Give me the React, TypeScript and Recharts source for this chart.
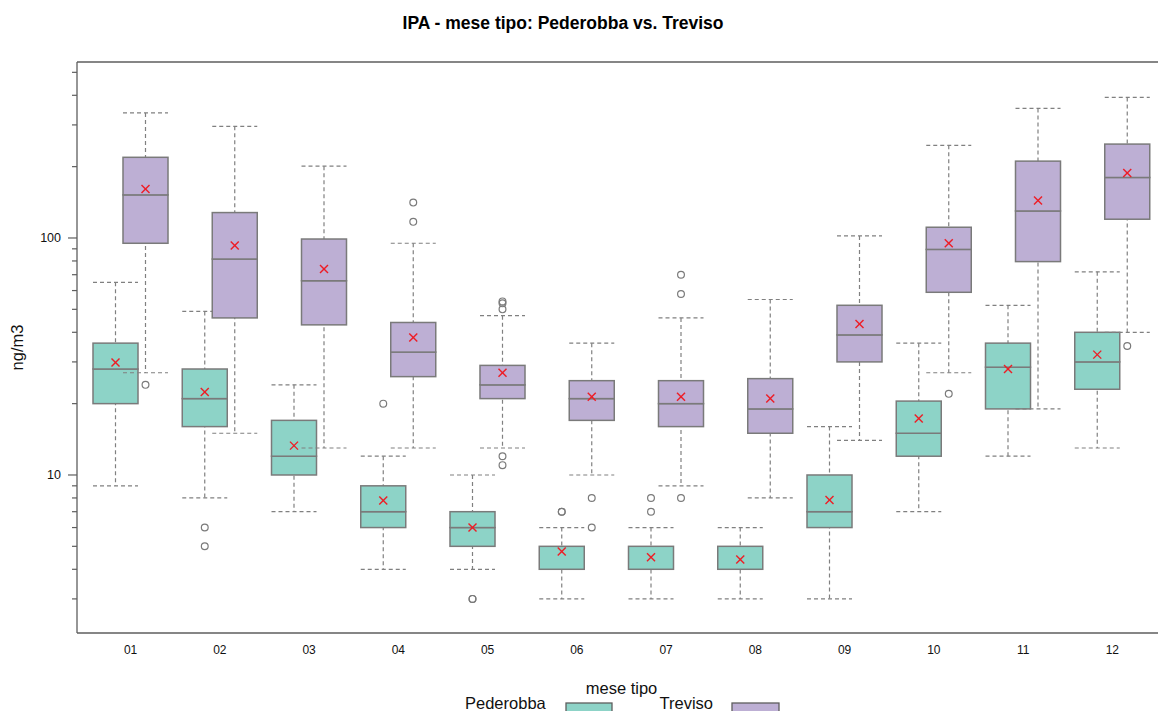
import { ComposedChart, Bar, XAxis, YAxis } from 'recharts';

const MONTHS = ['01', '02', '03', '04', '05', '06', '07', '08', '09', '10', '11', '12'];

// Pederobba
const PED_MIN = [9, 8, 7, 4, 4, 3, 3, 3, 3, 7, 12, 13];
const PED_Q1 = [20, 16, 10, 6, 5, 4, 4, 4, 6, 12, 19, 23];
const PED_MED = [28, 21, 12, 7, 6, 4, 4, 4, 7, 15, 28.5, 30];
const PED_Q3 = [36, 28, 17, 9, 7, 5, 5, 5, 10, 20.5, 36, 40];
const PED_MAX = [65, 49, 24, 12, 10, 6, 6, 6, 16, 36, 52, 72];
const PED_MEAN = [29.8, 22.4, 13.3, 7.8, 6.0, 4.75, 4.5, 4.4, 7.85, 17.3, 28.0, 32.2];
const PED_OUT = [[], [6, 5], [], [20], [3, 3], [7, 7], [8, 7], [], [], [], [], []];

// Treviso
const TRV_MIN = [27, 15, 13, 13, 13, 10, 9, 8, 14, 27, 19, 40];
const TRV_Q1 = [95, 46, 43, 26, 21, 17, 16, 15, 30, 59, 79.5, 120];
const TRV_MED = [152, 81.5, 66, 33, 24, 21, 20, 19, 39, 89.5, 130, 180];
const TRV_Q3 = [219, 128, 99, 44, 29, 25, 25, 25.5, 52, 111, 211, 249];
const TRV_MAX = [337, 296, 201, 95, 47, 36, 46, 55, 102, 246, 352, 392];
const TRV_MEAN = [161, 93, 74, 38, 27, 21.4, 21.4, 21, 43.4, 95, 144, 188];
const TRV_OUT = [[24], [], [], [141, 117], [54, 53, 50, 12, 11], [8, 6], [70, 58, 8], [], [], [22], [], [35]];

const Y_TICKS = [3, 4, 5, 6, 7, 8, 9, 10, 20, 30, 40, 50, 60, 70, 80, 90, 100, 200, 300, 400, 500];
const Y_LABELED = [10, 100];
const Y_DOMAIN: [number, number] = [2.154, 552.8];

const OUT_SLOTS = [0, 1, 2, 3, 4];

const TEAL = '#8DD3C7';
const PURPLE = '#BDAFD4';
const BORDER = '#7a7a7a';
const WHISKER = '#808080';
const FRAME = '#5e5e5e';
const MEAN_COL = '#ee1c25';
const FONT = '"Liberation Sans", Arial, Helvetica, sans-serif';

const pair = (v: number | undefined) => (v == null ? null : [v, v]);

const rows = MONTHS.map((m, i) => {
  const row: Record<string, unknown> = {
    month: m,
    pWhisk: [PED_MIN[i], PED_MAX[i]],
    pLow: [PED_Q1[i], PED_MED[i]],
    pUp: [PED_MED[i], PED_Q3[i]],
    pMean: pair(PED_MEAN[i]),
    tWhisk: [TRV_MIN[i], TRV_MAX[i]],
    tLow: [TRV_Q1[i], TRV_MED[i]],
    tUp: [TRV_MED[i], TRV_Q3[i]],
    tMean: pair(TRV_MEAN[i]),
  };
  OUT_SLOTS.forEach(k => {
    row[`pOut${k}`] = pair(PED_OUT[i][k]);
    row[`tOut${k}`] = pair(TRV_OUT[i][k]);
  });
  return row;
});

const ok = (p: any) =>
  p && p.payload && [p.x, p.y, p.width, p.height].every((v: number) => Number.isFinite(v));

function whiskerShape(p: any) {
  if (!ok(p)) return <g />;
  const { x, y, width, height } = p;
  const cx = x + width / 2;
  return (
    <g stroke={WHISKER} strokeWidth={1.2} strokeDasharray="4 3" fill="none">
      <line x1={cx} x2={cx} y1={y} y2={y + height} />
      <line x1={x} x2={x + width} y1={y} y2={y} />
      <line x1={x} x2={x + width} y1={y + height} y2={y + height} />
    </g>
  );
}

const boxShape = (fill: string) => (p: any) => {
  if (!ok(p) || p.height <= 0) return <g />;
  return <rect x={p.x} y={p.y} width={p.width} height={p.height} fill={fill} stroke={BORDER} strokeWidth={1.5} />;
};

function meanShape(p: any) {
  if (!ok(p)) return <g />;
  const cx = p.x + p.width / 2;
  const cy = p.y;
  const s = 4;
  return (
    <g stroke={MEAN_COL} strokeWidth={1.4}>
      <line x1={cx - s} x2={cx + s} y1={cy - s} y2={cy + s} />
      <line x1={cx - s} x2={cx + s} y1={cy + s} y2={cy - s} />
    </g>
  );
}

function outlierShape(p: any) {
  if (!ok(p)) return <g />;
  return <circle cx={p.x + p.width / 2} cy={p.y} r={3.4} fill="none" stroke={BORDER} strokeWidth={1.2} />;
}

function YTick(props: any) {
  const { x, y, payload } = props;
  const major = Y_LABELED.includes(payload.value);
  return (
    <g>
      <line x1={x - (major ? 9 : 5)} x2={x} y1={y} y2={y} stroke={FRAME} strokeWidth={1.2} />
      {major && (
        <text x={x - 16} y={y} textAnchor="end" dominantBaseline="central" fontSize={12.5} fill="#111" fontFamily={FONT}>
          {payload.value}
        </text>
      )}
    </g>
  );
}

const SERIES = [
  { id: 'p', fill: TEAL },
  { id: 't', fill: PURPLE },
];

const LAYER_AXES = ['w', 'lo', 'up', 'mn', ...OUT_SLOTS.map(k => `o${k}`)];

export default function App() {
  return (
    <div style={{ position: 'absolute', left: 0, top: 0, width: 1158, height: 711, overflow: 'hidden', background: '#fff', fontFamily: FONT }}>
      <ComposedChart
        width={1180}
        height={711}
        data={rows}
        margin={{ top: 61, right: 14, bottom: 48, left: 0 }}
        barGap={-15}
      >
        {LAYER_AXES.map(id => {
          if (id === 'w') {
            // top frame line of the panel
            return (
              <XAxis
                key={id} xAxisId={id} dataKey="month" orientation="top" height={1}
                padding={{ left: 9, right: 9 }} tick={false} tickLine={false}
                axisLine={{ stroke: FRAME, strokeWidth: 1.3 }}
              />
            );
          }
          if (id === 'lo') {
            return (
              <XAxis
                key={id} xAxisId={id} dataKey="month" height={30}
                padding={{ left: 9, right: 9 }} tickLine={false} tickSize={0} tickMargin={12}
                tick={{ fontSize: 12, fill: '#111', fontFamily: FONT }}
                axisLine={{ stroke: FRAME, strokeWidth: 1.3 }}
                label={{
                  content: (lp: any) => {
                    const vb = lp?.viewBox ?? { x: 77, y: 633, width: 1089, height: 30 };
                    return (
                      <text x={vb.x + vb.width / 2} y={vb.y + 61} textAnchor="middle" fontSize={16.5} fill="#111" fontFamily={FONT}>
                        mese tipo
                      </text>
                    );
                  },
                }}
              />
            );
          }
          return <XAxis key={id} xAxisId={id} dataKey="month" hide padding={{ left: 9, right: 9 }} />;
        })}
        <YAxis
          type="number"
          scale="log"
          domain={Y_DOMAIN}
          allowDataOverflow
          ticks={Y_TICKS}
          interval={0}
          width={77}
          tickLine={false}
          tickSize={0}
          tickMargin={0}
          tick={(tp: any) => <YTick {...tp} />}
          axisLine={{ stroke: FRAME, strokeWidth: 1.3 }}
          label={{
            content: (lp: any) => {
              const vb = lp?.viewBox ?? { x: 0, y: 62, width: 77, height: 571 };
              const cx = vb.x + 17;
              const cy = vb.y + vb.height / 2;
              return (
                <text x={cx} y={cy} transform={`rotate(-90 ${cx} ${cy})`} textAnchor="middle" dominantBaseline="central" fontSize={16.5} fill="#111" fontFamily={FONT}>
                  ng/m3
                </text>
              );
            },
          }}
        />
        {SERIES.flatMap(s => [
          <Bar key={`${s.id}w`} xAxisId="w" dataKey={`${s.id}Whisk`} barSize={45} shape={whiskerShape} isAnimationActive={false} />,
          <Bar key={`${s.id}lo`} xAxisId="lo" dataKey={`${s.id}Low`} barSize={45} shape={boxShape(s.fill)} isAnimationActive={false} />,
          <Bar key={`${s.id}up`} xAxisId="up" dataKey={`${s.id}Up`} barSize={45} shape={boxShape(s.fill)} isAnimationActive={false} />,
          <Bar key={`${s.id}mn`} xAxisId="mn" dataKey={`${s.id}Mean`} barSize={45} shape={meanShape} isAnimationActive={false} />,
          ...OUT_SLOTS.map(k => (
            <Bar key={`${s.id}o${k}`} xAxisId={`o${k}`} dataKey={`${s.id}Out${k}`} barSize={45} shape={outlierShape} isAnimationActive={false} />
          )),
        ])}
      </ComposedChart>
      <svg width={1158} height={711} style={{ position: 'absolute', left: 0, top: 0, pointerEvents: 'none' }}>
        <text x={563} y={29} textAnchor="middle" fontSize={17.5} fontWeight="bold" fill="#000" fontFamily={FONT}>
          IPA - mese tipo: Pederobba vs. Treviso
        </text>
        <text x={465} y={709} fontSize={16.5} fill="#111" fontFamily={FONT}>Pederobba</text>
        <rect x={566} y={703} width={46} height={16} fill={TEAL} stroke={FRAME} strokeWidth={1.3} />
        <text x={659.5} y={709} fontSize={16.5} fill="#111" fontFamily={FONT}>Treviso</text>
        <rect x={732} y={703} width={47} height={16} fill={PURPLE} stroke={FRAME} strokeWidth={1.3} />
      </svg>
    </div>
  );
}
